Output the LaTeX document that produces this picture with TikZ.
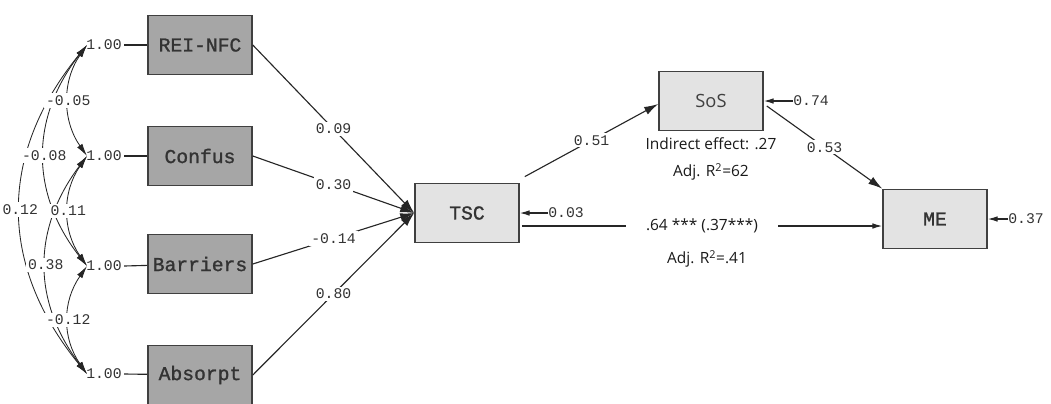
\documentclass[tikz,border=0pt]{standalone}
\usepackage{fontspec}
\setmainfont{Open Sans}
\setmonofont{Liberation Mono}
\newfontfamily\boxfont[FakeBold=1.2]{Liberation Mono}
\usetikzlibrary{arrows.meta,calc}
\begin{document}
\begin{tikzpicture}[x=0.025cm,y=-0.025cm,
  obs/.style={draw=black!75,line width=1.1pt,minimum width=2.6cm,minimum height=1.48cm,inner sep=0pt,font=\boxfont\fontsize{14}{16}\selectfont,text=black!80},
  exo/.style={obs,fill=black!35},
  endo/.style={obs,fill=black!11},
  coef/.style={fill=white,inner sep=1.5pt,font=\ttfamily\fontsize{10.5}{12}\selectfont,text=black!80},
  note/.style={font=\fontsize{11}{13}\selectfont,text=black!90},
  reg/.style={draw=black!85,line width=0.8pt,-{Latex[length=10pt,width=6pt]}},
  res/.style={draw=black!85,line width=0.8pt,-{Latex[length=7pt,width=4pt]}},
  cov/.style={draw=black!85,line width=0.6pt,{Latex[length=9pt,width=4.5pt]}-{Latex[length=9pt,width=4.5pt]}}]
\useasboundingbox (0,0) rectangle (1051,403);
% observed variables
\node[exo] (rei) at (200,45) {REI-NFC};
\node[exo] (conf) at (200,156) {Confus};
\node[exo] (barr) at (200,264) {Barriers};
\node[exo] (absp) at (200,375) {Absorpt};
\node[endo] (tsc) at (467,213) {TSC};
\node[endo,font=\fontsize{13}{15}\selectfont,text=black!75] (sos) at (711,101) {SoS};
\node[endo] (me) at (935,219) {ME};
% variances
\node[coef,fill=none] (v1) at (104,45) {1.00};\coordinate (c1) at (87,45);
\node[coef,fill=none] (v2) at (104,156) {1.00};\coordinate (c2) at (87,156);
\node[coef,fill=none] (v3) at (104,266) {1.00};\coordinate (c3) at (87,266);
\node[coef,fill=none] (v4) at (104,374) {1.00};\coordinate (c4) at (87,374);
\draw[black!85,line width=0.8pt] (v1.east)--(rei);\draw[black!85,line width=0.8pt] (v2.east)--(conf);
\draw[black!85,line width=0.8pt] (v3.east)--(barr);\draw[black!85,line width=0.8pt] (v4.east)--(absp);
% covariances
\draw[cov] (c1) .. controls +(-89,109) and +(-89,-109) .. (c4) node[coef,pos=0.5] {0.12};
\draw[cov] (c1) .. controls +(-57,73) and +(-57,-73) .. (c3) node[coef,pos=0.5] {-0.08};
\draw[cov] (c2) .. controls +(-55,73) and +(-55,-73) .. (c4) node[coef,pos=0.5] {0.38};
\draw[cov] (c1) .. controls +(-25,36) and +(-25,-36) .. (c2) node[coef,pos=0.5] {-0.05};
\draw[cov] (c2) .. controls +(-25,36) and +(-25,-36) .. (c3) node[coef,pos=0.5] {0.11};
\draw[cov] (c3) .. controls +(-25,36) and +(-25,-36) .. (c4) node[coef,pos=0.5] {-0.12};
% paths
\draw[reg] (rei.east)--(tsc.west) node[coef,pos=0.5] {0.09};
\draw[reg] (conf.east)--(tsc.west) node[coef,pos=0.5] {0.30};
\draw[reg] (barr.east)--(tsc.west) node[coef,pos=0.5] {-0.14};
\draw[reg] (absp.east)--(tsc.west) node[coef,pos=0.5] {0.80};
\draw[reg] ($(tsc.north east)+(5,-6)$)--($(sos.west)+(0,3)$) node[coef,pos=0.5] {0.51};
\draw[reg] ($(sos.east)+(3,5)$)--(me.north west) node[coef,pos=0.5] {0.53};
\draw[res] ($(tsc.east)+(2,13)$)--($(me.west)+(0,7)$) node[note,fill=white,inner xsep=14pt,pos=0.5] (dir) {.64 *** (.37***)};
\node[note] (adj1) at (707,259) {Adj. R\textsuperscript{2}=.41};
\node[note] (ind) at (711,144) {Indirect effect: .27};
\node[note] (adj2) at (711,172) {Adj. R\textsuperscript{2}=62};
% residuals
\node[coef,fill=none,anchor=west,inner sep=0pt] (e1) at (548,213) {0.03};
\node[coef,fill=none,anchor=west,inner sep=0pt] (e2) at (793,101) {0.74};
\node[coef,fill=none,anchor=west,inner sep=0pt] (e3) at (1008,219) {0.37};
\draw[res] (e1.west)--(tsc.east |- e1.west);
\draw[res] (e2.west)--(sos.east |- e2.west);
\draw[res] (e3.west)--(me.east |- e3.west);
\end{tikzpicture}
\end{document}
